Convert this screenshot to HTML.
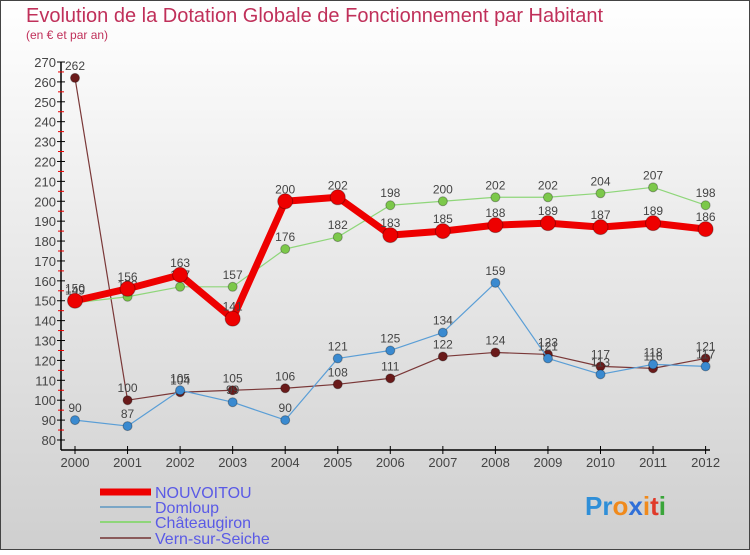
<!DOCTYPE html>
<html><head><meta charset="utf-8"><style>
body{margin:0;width:750px;height:550px;overflow:hidden;font-family:"Liberation Sans",sans-serif}
svg text{font-family:"Liberation Sans",sans-serif}
</style></head><body>
<svg id="chart" width="750" height="550" viewBox="0 0 750 550">
<defs><linearGradient id="bg" x1="0" y1="0" x2="0" y2="1"><stop offset="0" stop-color="#ffffff"/><stop offset="1" stop-color="#cfcfcf"/></linearGradient></defs>
<rect x="0.5" y="0.5" width="749" height="549" fill="url(#bg)" stroke="#444"/>
<text x="26" y="22" font-size="20" fill="#c0305a">Evolution de la Dotation Globale de Fonctionnement par Habitant</text>
<text x="26" y="39" font-size="12" fill="#c0305a">(en € et par an)</text>
<g id="axes"></g><g id="series"></g>
<g>
<line x1="100" y1="492" x2="151" y2="492" stroke="#ee0000" stroke-width="7"/>
<text x="155" y="498" font-size="16" fill="#5a5ae6">NOUVOITOU</text>
<line x1="100" y1="507" x2="151" y2="507" stroke="#7aa6c6" stroke-width="2"/>
<text x="155" y="513" font-size="16" fill="#5a5ae6">Domloup</text>
<line x1="100" y1="522" x2="151" y2="522" stroke="#8fd67a" stroke-width="2"/>
<text x="155" y="528" font-size="16" fill="#5a5ae6">Châteaugiron</text>
<line x1="100" y1="538" x2="151" y2="538" stroke="#8a5a5a" stroke-width="2"/>
<text x="155" y="544" font-size="16" fill="#5a5ae6">Vern-sur-Seiche</text>
</g>
<g font-size="26" font-weight="bold">
<text x="585" y="515"><tspan fill="#2f8fd8">Pr</tspan><tspan fill="#f08a1c">o</tspan><tspan fill="#2f6fd8">x</tspan><tspan fill="#f08a1c">i</tspan><tspan fill="#e03a2a">t</tspan><tspan fill="#3aa53a">i</tspan></text>
</g>
</svg>
<script>
const years=[2000,2001,2002,2003,2004,2005,2006,2007,2008,2009,2010,2011,2012];
const nouvoitou=[150,156,163,141,200,202,183,185,188,189,187,189,186];
const domloup=[90,87,105,99,90,121,125,134,159,121,113,118,117];
const chateaugiron=[149,152,157,157,176,182,198,200,202,202,204,207,198];
const vern=[262,100,104,105,106,108,111,122,124,123,117,116,121];
const yTicks=[80,90,100,110,120,130,140,150,160,170,180,190,200,210,220,230,240,250,260,270];
const NS="http://www.w3.org/2000/svg";
const X=i=>75+i*52.55;
const Y=v=>440-(v-80)*(378/190);
function mk(t,a,p){const e=document.createElementNS(NS,t);for(const k in a)e.setAttribute(k,a[k]);p.appendChild(e);return e;}
const ax=document.getElementById('axes');
let l=mk('line',{x1:61,y1:Y(270),x2:61,y2:450,stroke:'#000','stroke-width':1.5},ax);


l=mk('line',{x1:61,y1:450,x2:710,y2:450,stroke:'#000','stroke-width':1.5},ax);


yTicks.forEach(v=>{
 mk('line',{x1:57,y1:Y(v),x2:65,y2:Y(v),stroke:'#000'},ax);
 if(v<270) mk('line',{x1:58,y1:Y(v+5),x2:64,y2:Y(v+5),stroke:'#e00'},ax);
 const t=mk('text',{x:56,y:Y(v)+5,'text-anchor':'end','font-size':13,fill:'#444'},ax);t.textContent=v;
 
 
});
years.forEach((y,i)=>{
 mk('line',{x1:X(i),y1:446,x2:X(i),y2:454,stroke:'#000'},ax);
 const t=mk('text',{x:X(i),y:467,'text-anchor':'middle','font-size':13,fill:'#444'},ax);t.textContent=y;
 
 
});
const sg=document.getElementById('series');
function series(name,data,color,w,r,dot){
 const g=mk('g',{},sg);
 
 
 const p=mk('polyline',{points:data.map((v,i)=>X(i)+','+Y(v)).join(' '),fill:'none',stroke:color,'stroke-width':w,'stroke-linejoin':'round'},g);
 
 
 data.forEach((v,i)=>{
  const c=mk('circle',{cx:X(i),cy:Y(v),r:r,fill:dot,stroke:'rgba(0,0,0,0.3)','stroke-width':1},g);
  
  
  const t=mk('text',{x:X(i),y:Y(v)-8,'text-anchor':'middle','font-size':12,fill:'#444'},g);t.textContent=v;
  
  
 });
}
series('vern',vern,'#7a3838',1.2,4.5,'#6a1a1a');
series('domloup',domloup,'#5a9ed6',1.2,4.5,'#3a8ad0');
series('chateaugiron',chateaugiron,'#8fd67a',1.2,4.5,'#7cc84a');
series('nouvoitou',nouvoitou,'#ee0000',7,7.5,'#ee0000');
</script>
</body></html>
